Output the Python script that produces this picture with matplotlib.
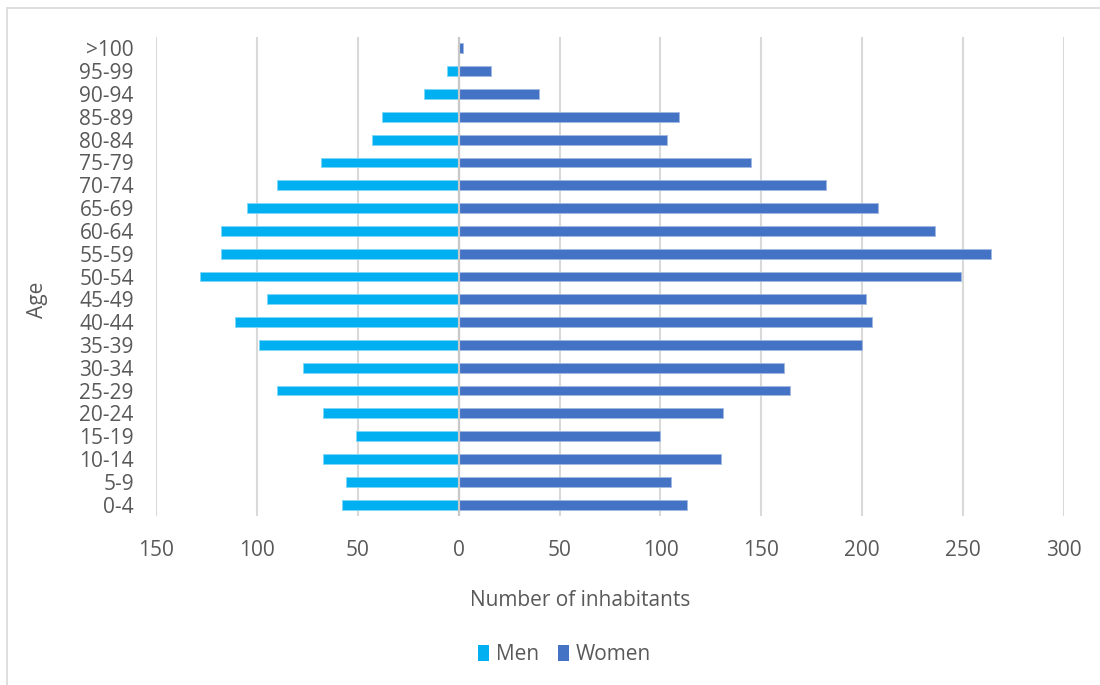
import numpy as np
import matplotlib.pyplot as plt
from matplotlib.patches import Rectangle, Patch

plt.rcParams['font.family'] = ['Open Sans', 'DejaVu Sans']

ages = ["0-4", "5-9", "10-14", "15-19", "20-24", "25-29", "30-34", "35-39",
        "40-44", "45-49", "50-54", "55-59", "60-64", "65-69", "70-74", "75-79",
        "80-84", "85-89", "90-94", "95-99", ">100"]
men = [58, 56, 67, 51, 67, 90, 77, 99, 111, 95, 128, 118, 118, 105, 90, 68,
       43, 38, 17, 6, 0]
women = [113, 105, 130, 100, 131, 164, 161, 200, 205, 202, 249, 264, 236, 208,
         182, 145, 103, 109, 40, 16, 2]
xticks = [-150, -100, -50, 0, 50, 100, 150, 200, 250, 300]

men_color = "#00B0F0"
women_color = "#4472C4"
text_color = "#595959"
grid_color = "#D9D9D9"

fig = plt.figure(figsize=(11, 6.85), dpi=100)
ax = fig.add_axes([0.1418, 0.2467, 0.8255, 0.6993])

y = np.arange(len(ages))
ax.barh(y, -np.array(men), height=0.43, color=men_color,
        edgecolor="#7FD7F7", linewidth=0.6, zorder=3)
ax.barh(y, women, height=0.43, color=women_color,
        edgecolor="#A1B8E1", linewidth=0.6, zorder=3)

ax.set_xlim(-150, 300)
ax.set_ylim(-0.5, len(ages) - 0.5)
ax.set_xticks(xticks)
ax.set_xticklabels([str(abs(t)) for t in xticks])
ax.set_yticks(y)
ax.set_yticklabels(ages)
ax.tick_params(axis="x", length=0, pad=17, labelsize=15, labelcolor=text_color)
ax.tick_params(axis="y", length=0, pad=16, labelsize=15, labelcolor=text_color)

for t in xticks:
    ax.axvline(t, color=grid_color, linewidth=1.5, zorder=1)
ax.axvline(0, color="#C8C8C8", linewidth=1.6, zorder=4)

for s in ax.spines.values():
    s.set_visible(False)

fig.text(580 / 1100, 1 - 601 / 685, "Number of inhabitants", ha="center",
         va="center", fontsize=15, color=text_color)
fig.text(38 / 1100, 1 - 300 / 685, "Age", ha="center", va="center",
         rotation=90, fontsize=15, color=text_color)

handles = [Patch(facecolor=men_color, label="Men"),
           Patch(facecolor=women_color, label="Women")]
fig.legend(handles=handles, loc="center", bbox_to_anchor=(0.513, 1 - 655 / 685),
           ncol=2, frameon=False, fontsize=15, labelcolor=text_color,
           handlelength=0.55, handleheight=0.8, handletextpad=0.3,
           columnspacing=0.9)

# light chart frame
fig.patches.append(Rectangle((7 / 1100, -0.02), 1.0, 1 - 8 / 685 + 0.02,
                             transform=fig.transFigure, fill=False,
                             edgecolor="#D9D9D9", linewidth=1.2))

fig.savefig("out.png", dpi=100)
